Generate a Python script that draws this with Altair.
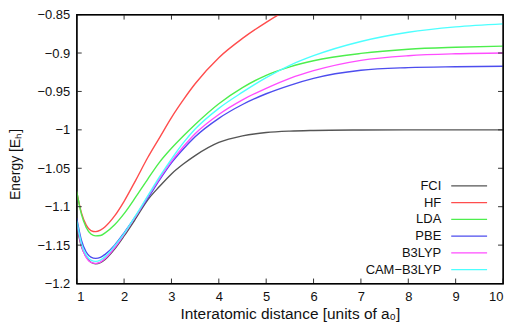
import altair as alt
import pandas as pd

r = [1.0, 1.1, 1.2, 1.3, 1.4, 1.5, 1.6, 1.8, 2.0, 2.25, 2.5, 2.75, 3.0, 3.25, 3.5, 4.0, 4.5, 5.0, 5.5, 6.0, 7.0, 8.0, 9.0, 10.0]

fci = [-1.1245, -1.1520, -1.1649, -1.1723, -1.1744, -1.1728, -1.1686, -1.1551, -1.1381, -1.1150, -1.0911, -1.0735, -1.0573, -1.0445, -1.0335, -1.0164, -1.0078, -1.0035, -1.0016, -1.0008, -1.0002, -1.0, -1.0, -1.0]
hf = [-1.081, -1.108, -1.124, -1.131, -1.1325, -1.1305, -1.126, -1.112, -1.093, -1.065, -1.036, -1.010, -0.984, -0.961, -0.940, -0.906, -0.881, -0.860, -0.842, -0.828, -0.806, -0.788, -0.775, -0.765]
lda = [-1.080, -1.110, -1.127, -1.1355, -1.138, -1.1375, -1.134, -1.1235, -1.109, -1.087, -1.064, -1.042, -1.024, -1.008, -0.993, -0.966, -0.945, -0.929, -0.918, -0.910, -0.9005, -0.895, -0.8925, -0.891]
pbe = [-1.115, -1.144, -1.159, -1.1655, -1.1672, -1.166, -1.162, -1.150, -1.134, -1.112, -1.089, -1.065, -1.043, -1.025, -1.009, -0.985, -0.967, -0.953, -0.942, -0.933, -0.9225, -0.919, -0.9178, -0.9172]
b3lyp = [-1.121, -1.151, -1.166, -1.1725, -1.1738, -1.172, -1.1675, -1.1535, -1.136, -1.112, -1.087, -1.063, -1.041, -1.022, -1.005, -0.980, -0.961, -0.946, -0.933, -0.923, -0.9095, -0.9035, -0.901, -0.900]
cam = [-1.118, -1.148, -1.163, -1.1695, -1.1712, -1.1695, -1.165, -1.151, -1.135, -1.111, -1.086, -1.061, -1.038, -1.017, -0.999, -0.972, -0.951, -0.932, -0.916, -0.9035, -0.885, -0.873, -0.866, -0.862]

series = ["FCI", "HF", "LDA", "PBE", "B3LYP", "CAM\u2212B3LYP"]
colors = ["#555555", "#ff4d4d", "#4dee4d", "#4d4dee", "#ff4dff", "#4dffff"]
values = [fci, hf, lda, pbe, b3lyp, cam]

x_ticks = [1, 2, 3, 4, 5, 6, 7, 8, 9, 10]
y_ticks = [-1.2, -1.15, -1.1, -1.05, -1.0, -0.95, -0.9, -0.85]

rows = []
for s, vals in zip(series, values):
    for xv, yv in zip(r, vals):
        rows.append({"series": s, "r": xv, "E": yv})
df = pd.DataFrame(rows)
leg = pd.DataFrame({"series": series, "idx": list(range(len(series)))})
xt = pd.DataFrame({"v": x_ticks})
yt = pd.DataFrame({"v": y_ticks})
frame_df = pd.DataFrame({"k": [0]})

W, H = 428, 270
FONT = "Liberation Sans"

xscale = alt.Scale(domain=[1, 10], nice=False, zero=False)
yscale = alt.Scale(domain=[-1.2, -0.85], nice=False, zero=False)
cscale = alt.Scale(domain=series, range=colors)

xaxis = alt.Axis(values=x_ticks, ticks=False, domain=False, grid=False, labelPadding=7,
                 labelOverlap=False, labelFontSize=13, labelFont=FONT, labelColor="#111",
                 title="Interatomic distance [units of a\u2080]", titleFont=FONT,
                 titleFontSize=15.5, titleFontWeight="normal", titleColor="#111",
                 titleY=30, titleBaseline="middle")
yaxis = alt.Axis(values=y_ticks, ticks=False, domain=False, grid=False, labelPadding=7,
                 labelOverlap=False, format="~g", labelFontSize=13, labelFont=FONT,
                 labelColor="#111",
                 title="Energy [E\u2095]", titleFont=FONT, titleFontSize=14,
                 titleFontWeight="normal", titleColor="#111",
                 titleX=-61, titleY=150, titleBaseline="middle", titleAlign="center")

lines = alt.Chart(df).mark_line(clip=True, strokeWidth=1.4, interpolate="monotone").encode(
    x=alt.X("r:Q", scale=xscale, axis=xaxis),
    y=alt.Y("E:Q", scale=yscale, axis=yaxis),
    color=alt.Color("series:N", scale=cscale, legend=None),
    detail="series:N",
)

tick_color = "#333"
xb = alt.Chart(xt).mark_rule(color=tick_color).encode(
    x=alt.X("v:Q", scale=xscale, axis=xaxis), y=alt.value(H), y2=alt.value(H - 5))
xtop = alt.Chart(xt).mark_rule(color=tick_color).encode(
    x=alt.X("v:Q", scale=xscale, axis=xaxis), y=alt.value(0), y2=alt.value(5))
yl = alt.Chart(yt).mark_rule(color=tick_color).encode(
    y=alt.Y("v:Q", scale=yscale, axis=yaxis), x=alt.value(0), x2=alt.value(5))
yr = alt.Chart(yt).mark_rule(color=tick_color).encode(
    y=alt.Y("v:Q", scale=yscale, axis=yaxis), x=alt.value(W - 5), x2=alt.value(W))

main = alt.layer(lines, xb, xtop, yl, yr)

frame = alt.Chart(frame_df).mark_rect(fill=None, stroke="black", strokeWidth=1.2).encode(
    x=alt.value(0), x2=alt.value(W), y=alt.value(0), y2=alt.value(H))

lscale = alt.Scale(domain=[0, len(series) - 1], range=[172, 256], nice=False, zero=False)
ltext = alt.Chart(leg).mark_text(align="right", baseline="middle", font=FONT, fontSize=13, color="#111").encode(
    y=alt.Y("idx:Q", scale=lscale, axis=None), x=alt.value(366), text="series:N")
lrule = alt.Chart(leg).mark_rule(strokeWidth=1.4).encode(
    y=alt.Y("idx:Q", scale=lscale, axis=None), x=alt.value(376), x2=alt.value(412),
    color=alt.Color("series:N", scale=cscale, legend=None))
legend = alt.layer(ltext, lrule)

chart = alt.layer(main, legend, frame).resolve_scale(y="independent").properties(
    width=W, height=H,
    autosize=alt.AutoSizeParams(type="none"),
    padding={"left": 69, "top": 6, "right": 4, "bottom": 40},
).configure_view(stroke="black", strokeWidth=1.2)

chart.save("out.html", embed_options={"renderer": "svg", "actions": False})
